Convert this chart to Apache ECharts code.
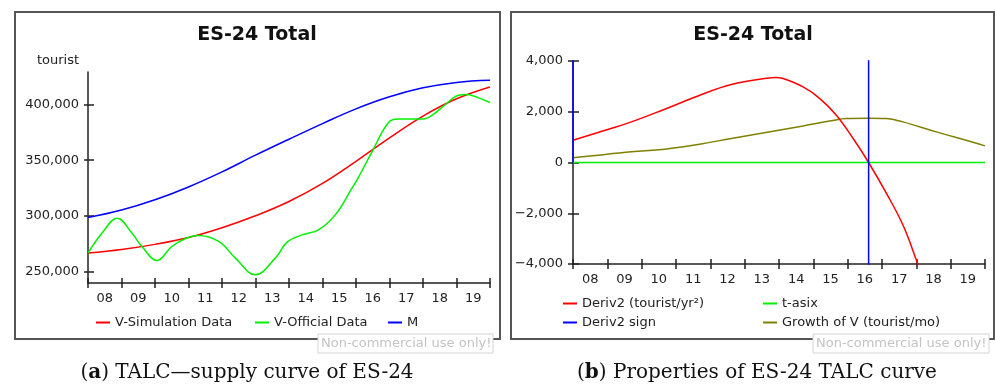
<!DOCTYPE html>
<html><head><meta charset="utf-8">
<script src="https://cdn.jsdelivr.net/npm/echarts@6/dist/echarts.min.js"></script>
<style>html,body{margin:0;padding:0;background:#fff}#c{width:995px;height:387px}</style>
</head><body><div id="c"></div>
<script>
// ---------- data ----------
const yearTicks = [2008,2009,2010,2011,2012,2013,2014,2015,2016,2017,2018,2019,2020];
const yearLabelPos = [2008.5,2009.5,2010.5,2011.5,2012.5,2013.5,2014.5,2015.5,2016.5,2017.5,2018.5,2019.5];
const leftYTicks = [250000,300000,350000,400000];

// Panel (a)
const simYears = [2008,2009,2010,2011,2012,2013,2014,2015,2016,2017,2018,2019,2020];
const simValues = [266800,270000,274600,280700,289500,300200,313000,329200,349000,370000,389500,405000,415600];
const mYears = [2008,2009,2010,2011,2012,2013,2014,2015,2016,2017,2018,2019,2020];
const mValues = [298600,305300,314500,326000,339500,354500,368800,382800,396000,406800,414800,419700,421600];
const offYears = [2008,2008.42,2008.87,2009.31,2009.61,2010.06,2010.5,2010.9,2011.3,2011.9,2012.4,2012.99,2013.59,2013.95,2014.39,2014.88,2015.38,2015.88,2016.03,2016.48,2016.97,2017.27,2017.97,2018.27,2018.67,2019.06,2019.31,2019.66,2020];
const offValues = [266800,284700,298100,284700,272700,260200,272700,279600,282500,277200,262300,247400,262300,276800,283100,287600,301000,324900,332300,357600,383800,386800,386800,390300,399900,408200,408800,405800,401700];

// Panel (b)
const d2Years = [2008,2008.73,2009.7,2010.67,2011.64,2012.61,2013.7,2013.9,2014.12,2014.7,2015.19,2015.67,2016.16,2016.61,2017.13,2017.61,2018.0,2018.3];
const d2Values = [880,1182,1600,2099,2623,3071,3331,3345,3307,2977,2520,1863,946,0,-1218,-2465,-3843,-5000];
const signYears = [2008,2008,2016.61,2016.61,2020];
const signValues = [0,10000,10000,-10000,-10000];
const tAxisYears = [2008,2020];
const tAxisValues = [0,0];
const growthYears = [2008,2008.73,2009.7,2010.67,2011.64,2012.61,2013.7,2014.7,2015.57,2015.96,2016.6,2017.13,2017.61,2018.58,2019.55,2020];
const growthValues = [183,289,419,526,710,946,1206,1442,1655,1733,1745,1733,1600,1206,840,655];

const zip = (xs, ys) => xs.map((x, i) => [x, ys[i]]);

// ---------- styling ----------
const FONT = 'DejaVu Sans';
const AX = '#222';
const fmt = v => { const s = Math.abs(v).toLocaleString('en-US'); return v < 0 ? '\u2212' + s : s; };

function xAxesFor(gridIndex, margin) {
  return [
    { type: 'value', gridIndex, min: 2008, max: 2020, interval: 1,
      axisLine: { show: true, onZero: false, lineStyle: { color: AX, width: 1.5 } },
      axisTick: { show: true, length: 5, customValues: yearTicks, lineStyle: { color: AX, width: 1.5 } },
      axisLabel: { show: true, customValues: yearLabelPos, margin, color: '#222', fontFamily: FONT, fontSize: 13,
                   formatter: v => String(Math.floor(v)).slice(2) },
      splitLine: { show: false } },
    { type: 'value', gridIndex, position: 'bottom', min: 2008, max: 2020, interval: 1,
      axisLine: { show: false, onZero: false },
      axisTick: { show: true, inside: true, length: 5, customValues: yearTicks, lineStyle: { color: AX, width: 1.5 } },
      axisLabel: { show: false }, splitLine: { show: false } }
  ];
}

const legendBase = { icon: 'rect', itemWidth: 14, itemHeight: 2, padding: 0, itemGap: 0,
  textStyle: { fontFamily: FONT, fontSize: 13, color: '#222' } };

const option = {
  animation: false,
  backgroundColor: '#fff',
  title: [
    { text: 'ES-24 Total', left: 252, top: 21, textAlign: 'center',
      textStyle: { fontFamily: FONT, fontWeight: 'bold', fontSize: 19, color: '#111' } },
    { text: 'ES-24 Total', left: 748, top: 21, textAlign: 'center',
      textStyle: { fontFamily: FONT, fontWeight: 'bold', fontSize: 19, color: '#111' } }
  ],
  grid: [
    { left: 88, right: 505, top: 72, bottom: 104 },
    { left: 573, right: 10, top: 61, bottom: 123 }
  ],
  xAxis: [].concat(xAxesFor(0, 9), xAxesFor(1, 9)),
  yAxis: [
    { type: 'value', gridIndex: 0, min: 240000, max: 429000,
      name: 'tourist', nameLocation: 'end', nameGap: 5,
      nameTextStyle: { fontFamily: FONT, fontSize: 13, color: '#222', align: 'right', padding: [0, 9, 0, 0] },
      axisLine: { show: true, lineStyle: { color: AX, width: 1.5 } },
      axisTick: { show: true, length: 4, customValues: leftYTicks, lineStyle: { color: AX, width: 1.5 } },
      axisLabel: { customValues: leftYTicks, margin: 9, color: '#222', fontFamily: FONT, fontSize: 13, formatter: fmt },
      splitLine: { show: false } },
    { type: 'value', gridIndex: 0, position: 'left', min: 240000, max: 429000,
      axisLine: { show: false },
      axisTick: { show: true, inside: true, length: 6, customValues: leftYTicks, lineStyle: { color: AX, width: 1.5 } },
      axisLabel: { show: false }, splitLine: { show: false } },
    { type: 'value', gridIndex: 1, min: -4000, max: 4000, interval: 2000,
      axisLine: { show: true, onZero: false, lineStyle: { color: AX, width: 1.5 } },
      axisTick: { show: true, length: 5, lineStyle: { color: AX, width: 1.5 } },
      axisLabel: { margin: 10, color: '#222', fontFamily: FONT, fontSize: 13, formatter: fmt },
      splitLine: { show: false } },
    { type: 'value', gridIndex: 1, position: 'left', min: -4000, max: 4000, interval: 2000,
      axisLine: { show: false, onZero: false },
      axisTick: { show: true, inside: true, length: 6, lineStyle: { color: AX, width: 1.5 } },
      axisLabel: { show: false }, splitLine: { show: false } }
  ],
  legend: [
    Object.assign({}, legendBase, { left: 96, top: 316, data: ['V-Simulation Data'] }),
    Object.assign({}, legendBase, { left: 255, top: 316, data: ['V-Official Data'] }),
    Object.assign({}, legendBase, { left: 388, top: 316, data: ['M'] }),
    Object.assign({}, legendBase, { left: 563, top: 297, data: ['Deriv2 (tourist/yr²)'] }),
    Object.assign({}, legendBase, { left: 763, top: 297, data: ['t-asix'] }),
    Object.assign({}, legendBase, { left: 563, top: 316, data: ['Deriv2 sign'] }),
    Object.assign({}, legendBase, { left: 763, top: 316, data: ['Growth of V (tourist/mo)'] })
  ],
  series: [
    { name: 'V-Simulation Data', type: 'line', xAxisIndex: 0, yAxisIndex: 0, data: zip(simYears, simValues),
      smooth: 0.4, showSymbol: false, symbol: 'none', color: '#ff0000', lineStyle: { width: 1.5 } },
    { name: 'V-Official Data', type: 'line', xAxisIndex: 0, yAxisIndex: 0, data: zip(offYears, offValues),
      smooth: 0.4, showSymbol: false, symbol: 'none', color: '#00f000', lineStyle: { width: 1.5 } },
    { name: 'M', type: 'line', xAxisIndex: 0, yAxisIndex: 0, data: zip(mYears, mValues),
      smooth: 0.4, showSymbol: false, symbol: 'none', color: '#0000ff', lineStyle: { width: 1.5 } },
    { name: 't-asix', type: 'line', xAxisIndex: 2, yAxisIndex: 2, data: zip(tAxisYears, tAxisValues),
      showSymbol: false, symbol: 'none', color: '#00f000', lineStyle: { width: 1.5 } },
    { name: 'Growth of V (tourist/mo)', type: 'line', xAxisIndex: 2, yAxisIndex: 2, data: zip(growthYears, growthValues),
      smooth: 0.4, showSymbol: false, symbol: 'none', color: '#808000', lineStyle: { width: 1.5 } },
    { name: 'Deriv2 (tourist/yr²)', type: 'line', xAxisIndex: 2, yAxisIndex: 2, data: zip(d2Years, d2Values),
      smooth: 0.4, showSymbol: false, symbol: 'none', color: '#ff0000', lineStyle: { width: 1.5 }, clip: true },
    { name: 'Deriv2 sign', type: 'line', xAxisIndex: 2, yAxisIndex: 2, data: zip(signYears, signValues),
      showSymbol: false, symbol: 'none', color: '#0000ff', lineStyle: { width: 1.5 }, clip: true }
  ],
  graphic: [
    { type: 'rect', shape: { x: 15, y: 12, width: 485, height: 327 }, style: { fill: 'none', stroke: '#555', lineWidth: 2 }, silent: true, z: -1 },
    { type: 'rect', shape: { x: 511, y: 12, width: 483, height: 327 }, style: { fill: 'none', stroke: '#555', lineWidth: 2 }, silent: true, z: -1 },
    { type: 'rect', shape: { x: 318, y: 334, width: 175, height: 19 }, style: { fill: '#fff', stroke: '#d4d4d4', lineWidth: 1 }, silent: true, z: 10 },
    { type: 'text', style: { text: 'Non-commercial use only!', x: 321, y: 344, textVerticalAlign: 'middle', fill: '#c4c4c4', font: '13px "DejaVu Sans"' }, silent: true, z: 11 },
    { type: 'rect', shape: { x: 813, y: 334, width: 176, height: 19 }, style: { fill: '#fff', stroke: '#d4d4d4', lineWidth: 1 }, silent: true, z: 10 },
    { type: 'text', style: { text: 'Non-commercial use only!', x: 816, y: 344, textVerticalAlign: 'middle', fill: '#c4c4c4', font: '13px "DejaVu Sans"' }, silent: true, z: 11 },
    { type: 'text', style: { text: '({b|a}) TALC\u2014supply curve of ES-24', x: 247, y: 373, textAlign: 'center', textVerticalAlign: 'middle',
        fill: '#111', font: '20px "DejaVu Serif"', rich: { b: { fontWeight: 'bold', fontFamily: 'DejaVu Serif', fontSize: 20, fill: '#111' } } }, silent: true },
    { type: 'text', style: { text: '({b|b}) Properties of ES-24 TALC curve', x: 757, y: 373, textAlign: 'center', textVerticalAlign: 'middle',
        fill: '#111', font: '20px "DejaVu Serif"', rich: { b: { fontWeight: 'bold', fontFamily: 'DejaVu Serif', fontSize: 20, fill: '#111' } } }, silent: true }
  ]
};

const chart = echarts.init(document.getElementById('c'), null, { renderer: 'canvas' });
chart.setOption(option);
</script>
</body></html>
